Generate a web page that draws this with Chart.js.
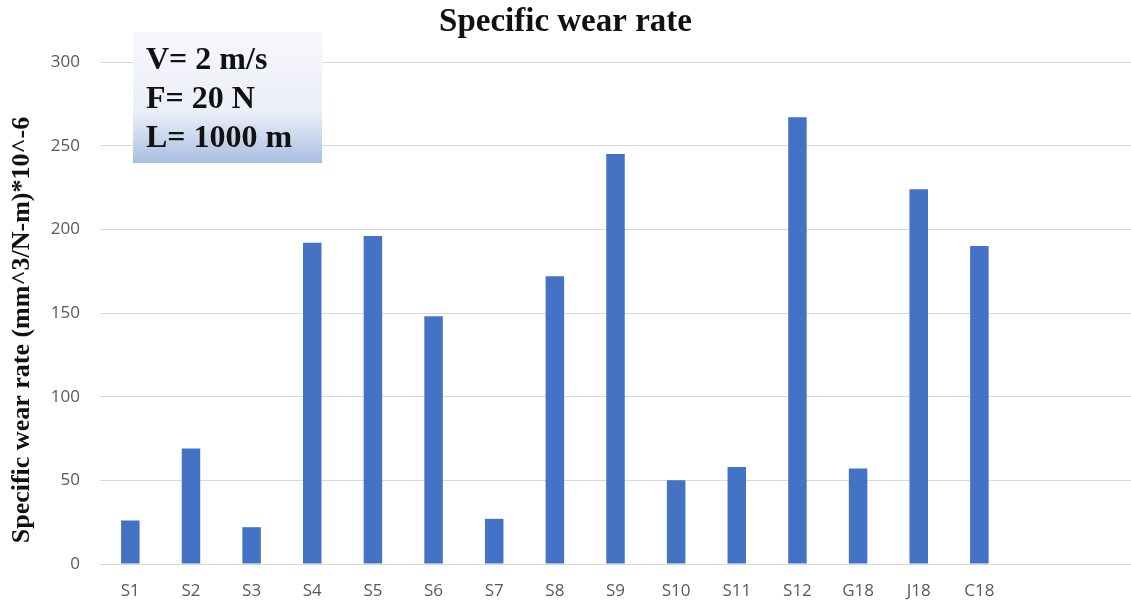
<!DOCTYPE html>
<html>
<head>
<meta charset="utf-8">
<script src="https://cdn.jsdelivr.net/npm/chart.js@4.4.1/dist/chart.umd.min.js"></script>
<style>
  html, body { margin: 0; padding: 0; background: #ffffff; }
  #wrap { width: 1131px; height: 606px; position: relative; }
</style>
</head>
<body>
<div id="wrap"><canvas id="c" width="1131" height="606"></canvas></div>
<script>
const categories = ["S1", "S2", "S3", "S4", "S5", "S6", "S7", "S8", "S9", "S10", "S11", "S12", "G18", "J18", "C18", "", ""];
const wearRate = [26, 69, 22, 192, 196, 148, 27, 172, 245, 50, 58, 267, 57, 224, 190, null, null];
const yTicks = [0, 50, 100, 150, 200, 250, 300];
const chartTitle = "Specific wear rate";
const yAxisTitle = "Specific wear rate (mm^3/N-m)*10^-6";
const infoLines = ["V= 2 m/s", "F= 20 N", "L= 1000 m"];

const serif = '"Liberation Serif", "Times New Roman", serif';

const extras = {
  id: 'extras',
  afterDraw(chart) {
    const ctx = chart.ctx;
    // info box
    const x = 133, y = 32, w = 189, h = 131;
    ctx.save();
    const g = ctx.createLinearGradient(0, y, 0, y + h);
    g.addColorStop(0, '#f7f8fc');
    g.addColorStop(0.62, '#eaeef7');
    g.addColorStop(1, '#a9bee2');
    ctx.fillStyle = g;
    ctx.fillRect(x, y, w, h);
    ctx.fillStyle = '#111111';
    ctx.font = 'bold 32px ' + serif;
    ctx.textBaseline = 'alphabetic';
    ctx.textAlign = 'left';
    const baselines = [69, 108, 147];
    infoLines.forEach((t, i) => ctx.fillText(t, 146, baselines[i]));
    ctx.restore();
    // y axis title
    ctx.save();
    ctx.translate(29, 330);
    ctx.rotate(-Math.PI / 2);
    ctx.fillStyle = '#111111';
    ctx.font = 'bold 26px ' + serif;
    ctx.textAlign = 'center';
    ctx.textBaseline = 'alphabetic';
    ctx.fillText(yAxisTitle, 0, 0);
    ctx.restore();
  }
};

new Chart(document.getElementById('c'), {
  type: 'bar',
  data: {
    labels: categories,
    datasets: [{
      data: wearRate,
      backgroundColor: '#4472c4',
      borderWidth: 0,
      barPercentage: 0.305,
      categoryPercentage: 1.0
    }]
  },
  options: {
    responsive: false,
    animation: false,
    layout: { padding: { left: 0, right: 0, top: 0, bottom: 0 } },
    plugins: {
      legend: { display: false },
      tooltip: { enabled: false },
      title: {
        display: true,
        text: chartTitle,
        color: '#111111',
        font: { family: serif, size: 33, weight: 'bold', lineHeight: 1.2 },
        padding: { top: 3, bottom: 19.4 }
      }
    },
    scales: {
      x: {
        grid: { display: false, drawTicks: false },
        border: { display: true, color: '#d9d9d9', width: 1 },
        ticks: {
          color: '#595959',
          font: { family: '"Open Sans", sans-serif', size: 17 },
          padding: 17,
          maxRotation: 0,
          autoSkip: false
        },
        afterFit(scale) { scale.height = 42; }
      },
      y: {
        min: 0,
        max: 300,
        afterBuildTicks(scale) { scale.ticks = yTicks.map(v => ({ value: v })); },
        grid: { color: '#d9d9d9', lineWidth: 1, drawTicks: false },
        border: { display: false },
        ticks: {
          color: '#595959',
          font: { family: '"Open Sans", sans-serif', size: 17 },
          padding: 20
        },
        title: { display: false, text: yAxisTitle },
        afterFit(scale) { scale.width = 100; }
      }
    }
  },
  plugins: [extras]
});
</script>
</body>
</html>
